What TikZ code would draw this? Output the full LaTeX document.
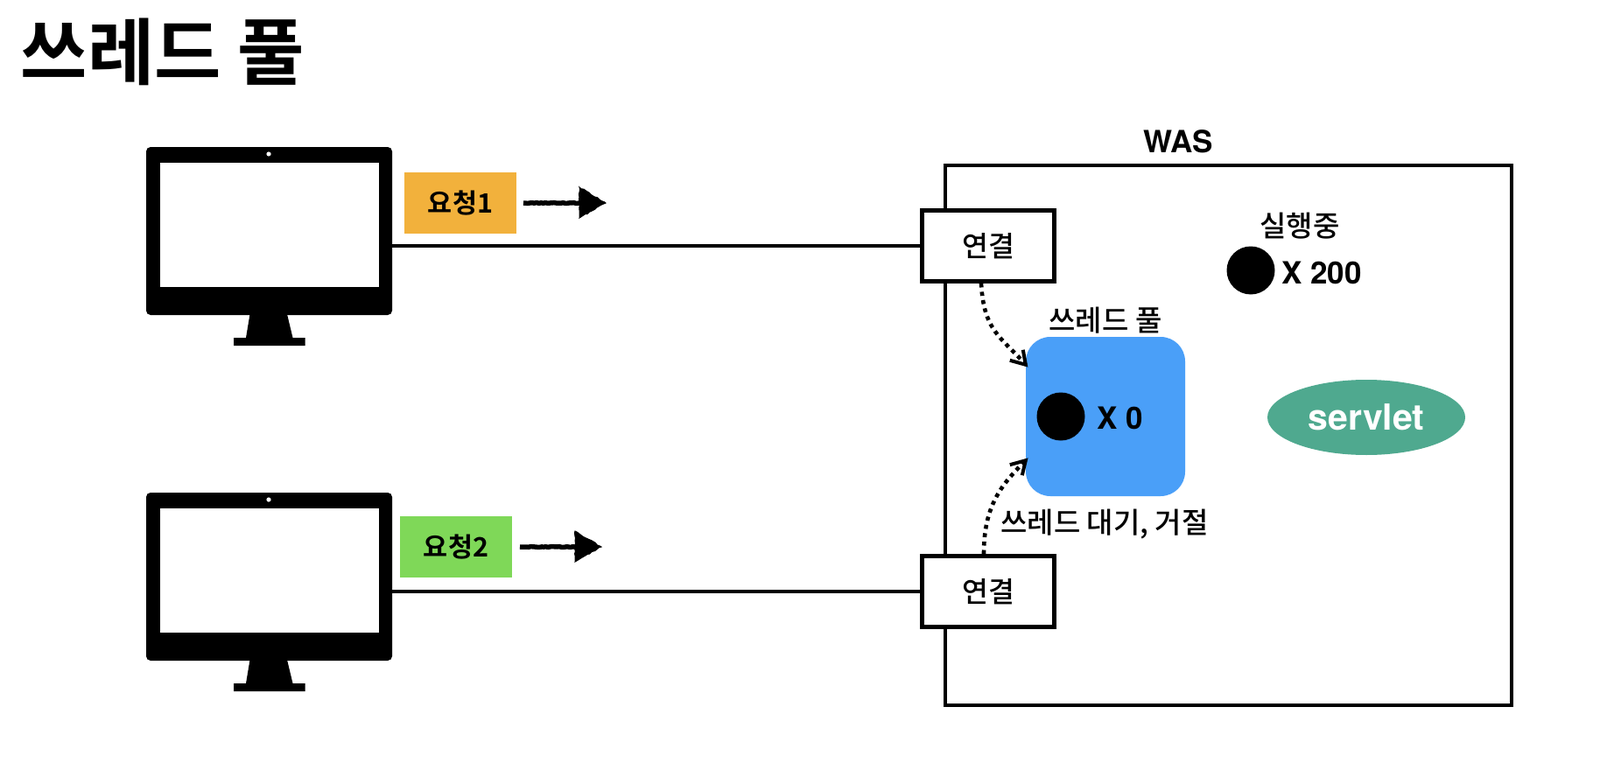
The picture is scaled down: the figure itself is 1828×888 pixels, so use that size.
\documentclass[tikz,border=0pt]{standalone}
\usepackage{fontspec}
\setmainfont{Liberation Sans}
\newfontfamily\krf{Noto Sans CJK KR Medium}
\newfontfamily\krb{Noto Sans CJK KR Bold}
\newfontfamily\latf{TeX Gyre Heros}
\usetikzlibrary{arrows.meta,shapes.geometric,decorations.pathmorphing}
\definecolor{reqone}{HTML}{F2B13C}
\definecolor{reqtwo}{HTML}{7FD858}
\definecolor{poolblue}{HTML}{4A9FF8}
\definecolor{servgreen}{HTML}{4FA98F}
\tikzset{
  x=1pt,y=-1pt,
  wire/.style={line width=4pt,draw=black},
  framebox/.style={draw=black,line width=4.8pt,fill=white,inner sep=0pt},
  connbox/.style={framebox,minimum width=151pt,minimum height=81pt,font=\krf\fontsize{32.5}{32.5}\selectfont},
  blackdot/.style={circle,fill=black,minimum size=55pt,inner sep=0pt},
  monbody/.style={rectangle,rounded corners=5pt,fill=black,minimum width=281pt,minimum height=192pt,inner sep=0pt},
  reqbox/.style={minimum width=128pt,minimum height=70pt,inner sep=0pt,font=\krb\fontsize{30.5}{30.5}\selectfont},
  lab/.style={inner sep=0pt,font=\krf\fontsize{33}{33}\selectfont},
  lat/.style={inner sep=0pt,font=\latf\bfseries\fontsize{35}{35}\selectfont},
  dotflow/.style={line width=4.6pt,dash pattern=on 4.6pt off 5pt},
  barbhead/.style={line width=4pt,line join=miter},
  sketch/.style={line width=5.5pt,decorate,decoration={random steps,segment length=2.5pt,amplitude=.4pt}},
  sketchhead/.style={fill=black,draw=black,line width=1pt,decorate,decoration={random steps,segment length=3pt,amplitude=.7pt}},
}
\newcommand{\monitorart}[2]{%
  \node[monbody] (#1) at (307.5,{264+#2}) {};
  \fill[white] (183,{185.7+#2}) rectangle (432.5,{328+#2});
  \fill[white] (307,{176+#2}) circle (2.6);
  \fill[black] (285.5,{359+#2}) -- (328,{359+#2}) -- (334.5,{386+#2}) -- (348.5,{386+#2}) -- (348.5,{395+#2}) -- (267,{395+#2}) -- (267,{386+#2}) -- (281,{386+#2}) -- cycle;
}
\begin{document}
\begin{tikzpicture}
\useasboundingbox (0,0) rectangle (1828,888);
\node[inner sep=0pt,anchor=center,font=\krb\fontsize{83}{83}\selectfont] (title) at (186,59) {쓰레드 풀};

\monitorart{monA}{0}
\monitorart{monB}{395}

\node[draw=black,line width=4.8pt,minimum width=647pt,minimum height=617pt,inner sep=0pt] (was) at (1403.5,497.5) {};
\node[lat] (wastxt) at (1346,162) {WAS};

\node[connbox] (connA) at (1129,281) {연결};
\node[connbox] (connB) at (1129,676) {연결};
\draw[wire] (monA.east |- connA.west) -- (connA.west);
\draw[wire] (monB.east |- connB.west) -- (connB.west);

\node[fill=reqone,reqbox] (reqA) at (526,232) {요청1};
\node[fill=reqtwo,reqbox] (reqB) at (521,625) {요청2};

\draw[sketch] (598,232) -- (665,232);
\path[sketchhead] (662,214) -- (692,232) -- (662,249) -- cycle;
\draw[sketch] (594,625) -- (660,625);
\path[sketchhead] (657,607) -- (687,625) -- (657,642) -- cycle;

\node[rectangle,rounded corners=28pt,fill=poolblue,minimum width=182pt,minimum height=182pt,inner sep=0pt] (pool) at (1263,476) {};
\node[lab] (poolt) at (1263,366) {쓰레드 풀};
\node[blackdot] (dotP) at (1212,476) {};
\node[lat] (poolx) at (1280,478) {X 0};

\node[blackdot] (dotR) at (1429,309) {};
\node[lab] (runt) at (1485,258) {실행중};
\node[lat] (runx) at (1510,312) {X 200};

\node[ellipse,fill=servgreen,minimum width=226pt,minimum height=86pt,inner sep=0pt] (serv) at (1561,477) {};
\node[lat,text=white,font=\latf\bfseries\fontsize{41}{41}\selectfont] at (serv.center) (servt) {servlet};

\node[lab] (waitt) at (1262,599) {쓰레드 대기, 거절};

\coordinate (tipA) at ([yshift=-32pt]pool.north west);
\coordinate (tipB) at ([yshift=41pt]pool.south west);
\draw[dotflow] ([xshift=-8pt]connA.south) .. controls +(3,55) and +(-28,-32) .. (tipA);
\draw[barbhead] ([shift={(-18,-5)}]tipA) -- (tipA) -- ([shift={(-3,-17)}]tipA);
\draw[dotflow] ([xshift=-5pt]connB.north) .. controls +(0,-55) and +(-28,28) .. (tipB);
\draw[barbhead] ([shift={(-18,5)}]tipB) -- (tipB) -- ([shift={(-4,17)}]tipB);
\end{tikzpicture}
\end{document}
